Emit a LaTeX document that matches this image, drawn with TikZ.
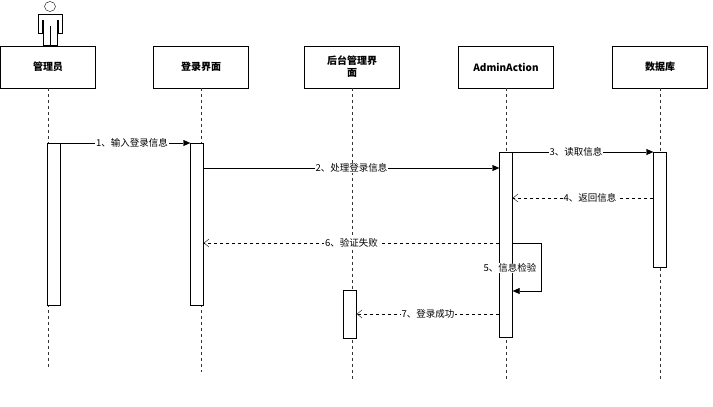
\documentclass[tikz,border=0pt]{standalone}
\usepackage{fontspec}
\newfontfamily\cjk{Noto Sans CJK SC}
\usetikzlibrary{arrows.meta}
\begin{document}
\begin{tikzpicture}[x=1pt,y=-1pt,font=\cjk\fontsize{9.5}{11}\selectfont,
 head/.style={draw,thick,minimum width=95pt,minimum height=42pt,align=center,inner sep=1pt,font=\cjk\bfseries\fontsize{10}{12}\selectfont},
 life/.style={dashed,black!80},
 act/.style={draw,fill=white,minimum width=13pt,inner sep=0},
 msg/.style={-{Triangle[length=7pt,width=6pt]}},
 ret/.style={dashed,-{Straight Barb[length=5pt,width=8pt]}},
 lab/.style={fill=white,inner sep=1pt}]
\useasboundingbox (0,0) rectangle (713,407);
% actor
\draw (50,6.5) ellipse (5.5 and 5);
\draw (38,14) -- (62,14) -- (62,33) -- (58,33) -- (58,20) -- (57,20) -- (57,45) -- (43,45) -- (43,20) -- (42,20) -- (42,33) -- (38,33) -- cycle;
\draw (50,26) -- (50,45);
\node[head] (h1) at (48,67) {管理员};
\node[head] (h2) at (201,67) {登录界面};
\node[head] (h3) at (352,67) {后台管理界\\面};
\node[head] (h4) at (506,67) {AdminAction};
\node[head] (h5) at (660,67) {数据库};
\coordinate (e1) at (48,370); \coordinate (e2) at (201,372);
\coordinate (e3) at (352,380); \coordinate (e4) at (506,380); \coordinate (e5) at (660,380);
\foreach \i in {1,...,5} \draw[life] (h\i.south) -- (e\i);
\node[act,minimum height=162pt,anchor=north] (a1) at (54,143) {};
\node[act,minimum height=162pt,anchor=north] (a2) at (197,143) {};
\node[act,minimum height=185pt,anchor=north] (a4) at (506,152) {};
\node[act,minimum height=115pt,anchor=north] (a5) at (660,152) {};
\node[act,minimum height=48pt,anchor=north] (a3) at (350,290) {};
% messages
\draw[msg] (a1.east|-0,143) -- node[lab,pos=0.55]{1、输入登录信息} (a2.west|-0,143);
\draw[msg] (a2.east|-0,168) -- node[lab,pos=0.5]{2、处理登录信息} (a4.west|-0,168);
\draw[msg] (a4.east|-0,152) -- node[lab,pos=0.45]{3、读取信息} (a5.west|-0,152);
\draw[ret] (a5.west|-0,198) -- node[lab,pos=0.45]{4、返回信息} (a4.east|-0,198);
\draw[ret] (a4.west|-0,243) -- node[lab,pos=0.5]{6、验证失败} (a2.east|-0,243);
\coordinate (s1) at (541,243); \coordinate (s2) at (541,291);
\draw[msg] (a4.east|-0,243) -- (s1) -- (s2) -- (a4.east|-0,291);
\node[lab] (l5) at (510,268) {5、信息检验};
\draw[ret] (a4.west|-0,314) -- node[lab,pos=0.5]{7、登录成功} (a3.east|-0,314);
\end{tikzpicture}
\end{document}
